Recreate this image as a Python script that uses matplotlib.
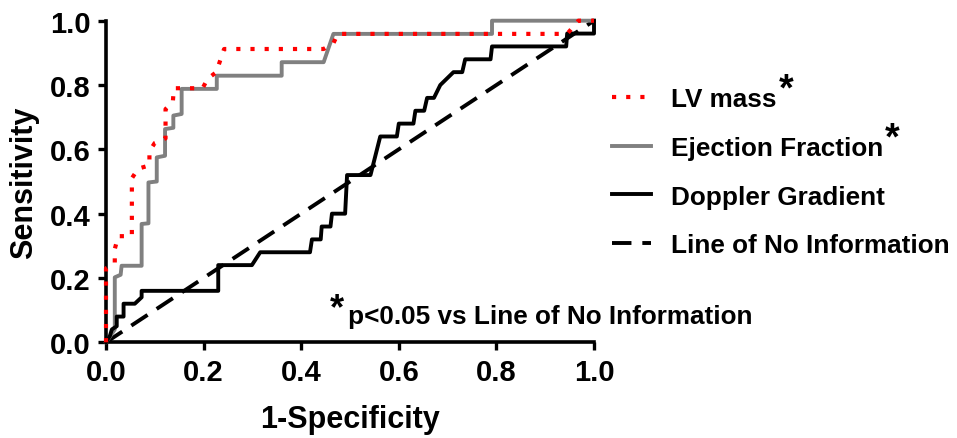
import matplotlib
matplotlib.use("Agg")
import matplotlib.pyplot as plt

# ROC curve points (1-specificity, sensitivity)
lv_fpr = [0.0, 0.0, 0.018, 0.018, 0.025, 0.053, 0.053, 0.066, 0.089, 0.089, 0.1, 0.122,
          0.122, 0.137, 0.139, 0.198, 0.208, 0.226, 0.233, 0.242, 0.446, 0.466, 0.475,
          0.945, 0.968, 1.0]
lv_tpr = [0.0, 0.23, 0.245, 0.29, 0.33, 0.33, 0.51, 0.54, 0.55, 0.594, 0.62, 0.634,
          0.725, 0.748, 0.79, 0.79, 0.819, 0.84, 0.872, 0.912, 0.912, 0.93, 0.959,
          0.959, 1.0, 1.0]

ef_fpr = [0.0, 0.018, 0.018, 0.03, 0.032, 0.073, 0.073, 0.087, 0.087, 0.104, 0.104, 0.121,
          0.121, 0.138, 0.138, 0.155, 0.155, 0.227, 0.227, 0.36, 0.36, 0.446, 0.466,
          0.791, 0.791, 1.0]
ef_tpr = [0.0, 0.04, 0.202, 0.21, 0.238, 0.238, 0.368, 0.37, 0.497, 0.5, 0.575, 0.58,
          0.663, 0.667, 0.705, 0.71, 0.788, 0.788, 0.829, 0.829, 0.871, 0.871, 0.959,
          0.959, 1.0, 1.0]

dop_fpr = [0.0, 0.008, 0.012, 0.022, 0.022, 0.036, 0.036, 0.059, 0.073, 0.073, 0.23, 0.23,
           0.299, 0.316, 0.418, 0.422, 0.44, 0.442, 0.46, 0.463, 0.49, 0.494, 0.542,
           0.562, 0.596, 0.6, 0.63, 0.634, 0.652, 0.658, 0.672, 0.685, 0.712, 0.73,
           0.736, 0.788, 0.791, 0.943, 0.945, 1.0, 1.0]
dop_tpr = [0.0, 0.02, 0.04, 0.05, 0.08, 0.08, 0.12, 0.12, 0.14, 0.16, 0.16, 0.24,
           0.24, 0.28, 0.28, 0.32, 0.32, 0.36, 0.36, 0.40, 0.40, 0.52, 0.52,
           0.64, 0.64, 0.68, 0.68, 0.72, 0.72, 0.76, 0.76, 0.80, 0.84, 0.84,
           0.88, 0.88, 0.92, 0.92, 0.96, 0.96, 1.0]

ref_line = [0.0, 1.0]

ticks = [0.0, 0.2, 0.4, 0.6, 0.8, 1.0]
tick_labels = ["0.0", "0.2", "0.4", "0.6", "0.8", "1.0"]

plt.rcParams["font.family"] = ["Liberation Sans", "DejaVu Sans"]
plt.rcParams["font.weight"] = "bold"

fig = plt.figure(figsize=(9.57, 4.39), dpi=100)
ax = fig.add_axes([106 / 957, 1 - 343.3 / 439, 488 / 957, 321.6 / 439])

ax.plot(lv_fpr, lv_tpr, color="#ff0000", lw=3, linestyle=(0, (1, 2.4)),
        label="LV mass", clip_on=False, zorder=4)
ax.plot(ef_fpr, ef_tpr, color="#808080", lw=2.8, label="Ejection Fraction",
        clip_on=False, zorder=3)
ax.plot(dop_fpr, dop_tpr, color="black", lw=2.8, label="Doppler Gradient",
        clip_on=False, zorder=3)
ax.plot(ref_line, ref_line, color="black", lw=2.8, linestyle=(0, (5, 2.8)),
        label="Line of No Information", clip_on=False, zorder=2)

ax.set_xlim(0, 1)
ax.set_ylim(0, 1)
ax.set_xticks(ticks)
ax.set_xticklabels(tick_labels)
ax.set_yticks(ticks)
ax.set_yticklabels(tick_labels)
ax.tick_params(labelsize=21, width=2.4, length=6, pad=5)
for side in ["top", "right"]:
    ax.spines[side].set_visible(False)
for side in ["left", "bottom"]:
    ax.spines[side].set_linewidth(2.6)

ax.set_xlabel("1-Specificity", fontsize=22, fontweight="bold", labelpad=13)
ax.set_ylabel("Sensitivity", fontsize=22, fontweight="bold", labelpad=8)

leg = ax.legend(loc="upper left", bbox_to_anchor=(612 / 957, 1 - 88 / 439),
                bbox_transform=fig.transFigure, frameon=False, fontsize=18.8,
                borderpad=0, borderaxespad=0, handlelength=1.5, handletextpad=0.75,
                labelspacing=0.95)

# significance asterisks next to the first two legend entries
leg_texts = leg.get_texts()
for t in leg_texts[:2]:
    ax.annotate("*", xy=(1, 0), xycoords=t, xytext=(1.5, 8.5), textcoords="offset points",
                fontsize=27, fontweight="bold", ha="left", va="baseline", zorder=10)

# footnote
ax.text(0.473, 0.076, "*", fontsize=26, fontweight="bold", ha="center", va="baseline")
ax.text(0.496, 0.059, "p<0.05 vs Line of No Information", fontsize=18.8,
        fontweight="bold", ha="left", va="baseline")

fig.savefig("out.png", dpi=100)
